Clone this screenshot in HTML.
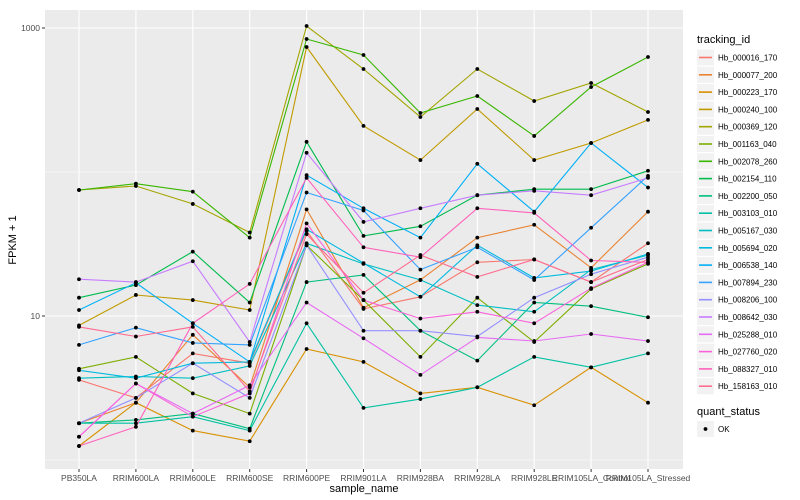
<!DOCTYPE html>
<html><head><meta charset="utf-8">
<style>
html,body{margin:0;padding:0;background:#fff;}
svg{display:block;font-family:"Liberation Sans",sans-serif;}
</style></head>
<body>
<svg id="chart" width="800" height="500" xmlns="http://www.w3.org/2000/svg">
  <rect x="0" y="0" width="800" height="500" fill="#fff"/>
  <rect x="45" y="10" width="638" height="459" fill="#EBEBEB"/>
  <g id="grid"></g>
  <g id="series"></g>
  <g id="xaxis"></g>
  <g id="yaxis"></g>
  <text x="364" y="492" font-size="11" text-anchor="middle" fill="#000">sample_name</text>
  <text x="16" y="240" font-size="11" text-anchor="middle" fill="#000" transform="rotate(-90 16 240)">FPKM + 1</text>
  <g id="legend"></g>
</svg>
<script>
const categories = ["PB350LA","RRIM600LA","RRIM600LE","RRIM600SE","RRIM600PE","RRIM901LA","RRIM928BA","RRIM928LA","RRIM928LE","RRIM105LA_Control","RRIM105LA_Stressed"];
const seriesNames = ["Hb_000016_170","Hb_000077_200","Hb_000223_170","Hb_000240_100","Hb_000369_120","Hb_001163_040","Hb_002078_260","Hb_002154_110","Hb_002200_050","Hb_003103_010","Hb_005167_030","Hb_005694_020","Hb_006538_140","Hb_007894_230","Hb_008206_100","Hb_008642_030","Hb_025288_010","Hb_027760_020","Hb_088327_010","Hb_158163_010"];
const seriesColors = ["#F8766D","#EA8331","#D89000","#C09B00","#A3A500","#7CAE00","#39B600","#00BB4E","#00BF7D","#00C1A3","#00BFC4","#00BAE0","#00B0F6","#35A2FF","#9590FF","#C77CFF","#E76BF3","#FA62DB","#FF62BC","#FF6C91"];
const s000016 = [3.6,2.7,5.5,4.7,39,11.2,13.6,23.6,24.7,17.2,32];
const s000077 = [1.8,2.5,7.4,3.2,55,11.4,17.8,35,43,21.6,53];
const s000223 = [1.25,2.5,1.6,1.35,5.9,4.8,2.9,3.2,2.4,4.4,2.5];
const s000240 = [8.6,14.0,12.9,11.0,738,209,121,274,121,159,230];
const s000369 = [75,80,60,38,1033,519,241,519,311,415,261];
const s001163 = [4.3,5.2,2.9,2.1,31,12.9,5.2,13.4,6.6,15.4,23];
const s002078 = [75,83,73,35,839,649,257,337,178,389,629];
const s002154 = [13.4,16.4,28,12.4,162,36,42,69,76,76,102];
const s002200 = [1.8,1.9,2.1,1.65,17.2,19.3,7.9,4.9,12.4,11.7,9.8];
const s003103 = [1.8,1.8,2.0,1.6,8.9,2.3,2.65,3.2,5.2,4.4,5.5];
const s005167 = [3.7,3.8,3.7,4.5,32,23,17.8,11.9,10.7,21,26.5];
const s005694 = [4.2,3.7,4.7,4.8,40,23.3,13.6,31,18.4,20.5,27];
const s006538 = [11.0,17,8.9,4.8,95,56,35,114,53,159,78];
const s007894 = [6.3,8.3,6.5,6.3,72,54,21,30,17.8,41,94];
const s008206 = [1.8,2.7,4.7,2.7,31,7.9,7.9,7.2,13.4,19.5,25.6];
const s008642 = [18,17.2,24,6.6,136,45,56,69,74,69,91];
const s025288 = [1.45,3.4,2.1,3.3,12.4,7.0,3.9,7.1,6.7,7.5,6.7];
const s027760 = [1.45,3.4,2.0,2.9,44,12.9,9.6,10.7,8.9,15.6,23.6];
const s088327 = [1.25,1.7,8.9,16.7,91,30,25.6,56,52,24.3,23.6];
const s158163 = [8.4,7.2,8.4,3.0,37,14.5,26.5,18.7,24.7,17.2,24.7];
const seriesValues = [s000016,s000077,s000223,s000240,s000369,s001163,s002078,s002154,s002200,s003103,s005167,s005694,s006538,s007894,s008206,s008642,s025288,s027760,s088327,s158163];
const yTickValues = [10,1000];
const yTickLabels = ["10","1000"];
const yMinorValues = [1,100];

const NS = "http://www.w3.org/2000/svg";
function mk(tag, attrs, parent){const e=document.createElementNS(NS,tag);for(const k in attrs)e.setAttribute(k,attrs[k]);parent.appendChild(e);return e;}
const xStep = 56.9, x0 = 79;
function xScale(i){return x0 + i*xStep;}
function yScale(v){return 28 + (3 - Math.log10(v))*144;}

const grid = document.getElementById('grid');
yMinorValues.forEach(v=>{
  const l=mk('line',{x1:45,x2:683,y1:yScale(v),y2:yScale(v),stroke:'#fff','stroke-width':0.5},grid);
  
  
});
yTickValues.forEach(v=>{
  const l=mk('line',{x1:45,x2:683,y1:yScale(v),y2:yScale(v),stroke:'#fff','stroke-width':1.1},grid);
  
  
});
categories.forEach((c,i)=>{
  const l=mk('line',{x1:xScale(i),x2:xScale(i),y1:10,y2:469,stroke:'#fff','stroke-width':1.1},grid);
  
  
});

const sg = document.getElementById('series');
seriesValues.forEach((vals,si)=>{
  const pts = vals.map((v,i)=>xScale(i).toFixed(1)+','+yScale(v).toFixed(1)).join(' ');
  const pl=mk('polyline',{points:pts,fill:'none',stroke:seriesColors[si],'stroke-width':1.1},sg);
  
  
});
seriesValues.forEach((vals,si)=>{
  vals.forEach((v,i)=>{
    const p=mk('circle',{cx:xScale(i),cy:yScale(v),r:1.9,fill:'#000'},sg);
    
    
  });
});

const xa = document.getElementById('xaxis');
categories.forEach((c,i)=>{
  const t=mk('line',{x1:xScale(i),x2:xScale(i),y1:469,y2:472,stroke:'#333','stroke-width':1},xa);
  
  
  const tx=mk('text',{x:xScale(i),y:481,'font-size':8.5,'text-anchor':'middle',fill:'#4D4D4D'},xa);
  tx.textContent=c;
  
  
});
const ya = document.getElementById('yaxis');
yTickValues.forEach((v,i)=>{
  const t=mk('line',{x1:42,x2:45,y1:yScale(v),y2:yScale(v),stroke:'#333','stroke-width':1},ya);
  
  
  const tx=mk('text',{x:40,y:yScale(v)+3,'font-size':8.5,'text-anchor':'end',fill:'#4D4D4D'},ya);
  tx.textContent=yTickLabels[i];
  
  
});

const lg = document.getElementById('legend');
const lt=mk('text',{x:697,y:43,'font-size':11,fill:'#000'},lg);
lt.textContent='tracking_id';


seriesNames.forEach((n,i)=>{
  const cy = 57.5 + i*17.3;
  const g=mk('g',{},lg);
  
  
  mk('rect',{x:697,y:cy-8,width:17,height:16,fill:'#F2F2F2'},g);
  mk('line',{x1:699,x2:712,y1:cy,y2:cy,stroke:seriesColors[i],'stroke-width':1.6},g);
  const t=mk('text',{x:718,y:cy+3,'font-size':8,fill:'#000'},g);
  t.textContent=n;
});
const qt=mk('text',{x:697,y:415,'font-size':11,fill:'#000'},lg);
qt.textContent='quant_status';


const og=mk('g',{},lg);


mk('rect',{x:697,y:421,width:17,height:16,fill:'#F2F2F2'},og);
mk('circle',{cx:705.5,cy:429,r:1.9,fill:'#000'},og);
const okt=mk('text',{x:718,y:432,'font-size':8,fill:'#000'},og);
okt.textContent='OK';
</script>
</body></html>
